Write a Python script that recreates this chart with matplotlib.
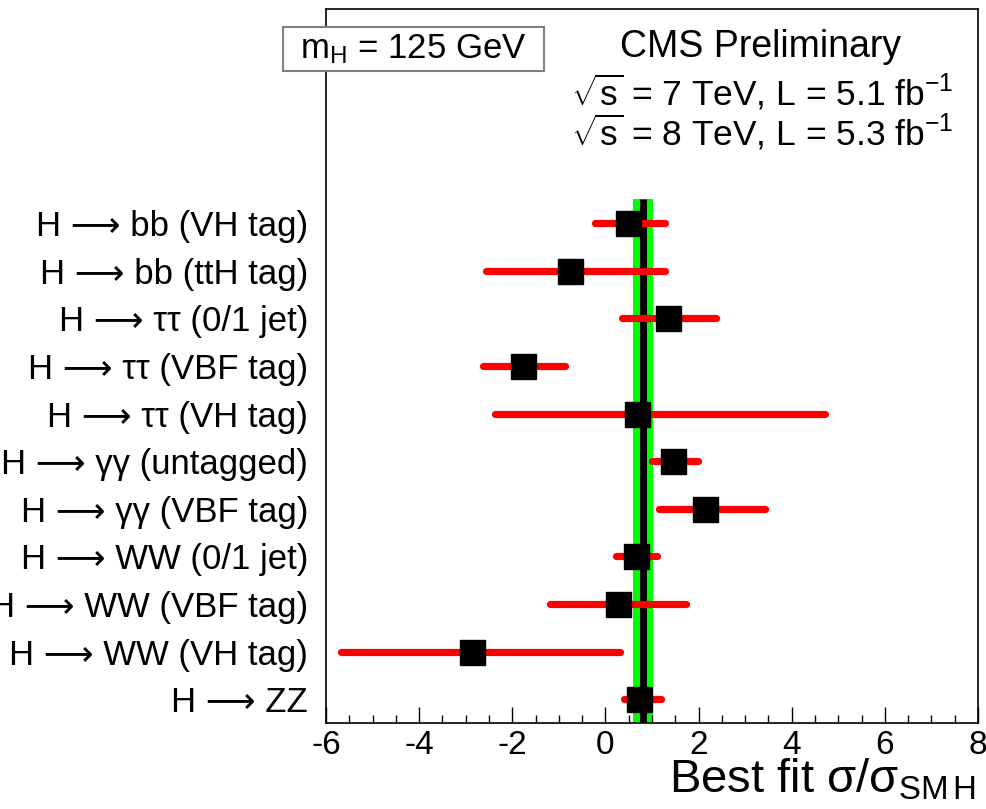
import matplotlib
matplotlib.use("Agg")
import matplotlib.pyplot as plt
from matplotlib.patches import Rectangle
from matplotlib.ticker import MultipleLocator

plt.rcParams['font.family'] = ['Liberation Sans', 'DejaVu Sans']
plt.rcParams['mathtext.fontset'] = 'custom'
plt.rcParams['mathtext.rm'] = 'Liberation Sans'
plt.rcParams['mathtext.it'] = 'Liberation Sans:italic'
plt.rcParams['mathtext.bf'] = 'Liberation Sans:bold'

# ---- data (top to bottom) ----
channels = [
    "H ⟶ bb (VH tag)",
    "H ⟶ bb (ttH tag)",
    "H ⟶ ττ (0/1 jet)",
    "H ⟶ ττ (VBF tag)",
    "H ⟶ ττ (VH tag)",
    "H ⟶ γγ (untagged)",
    "H ⟶ γγ (VBF tag)",
    "H ⟶ WW (0/1 jet)",
    "H ⟶ WW (VBF tag)",
    "H ⟶ WW (VH tag)",
    "H ⟶ ZZ",
]
best_fit = [0.48, -0.76, 1.34, -1.77, 0.67, 1.45, 2.13, 0.65, 0.27, -2.87, 0.72]
err_low  = [-0.22, -2.57, 0.35, -2.63, -2.37, 1.01, 1.14, 0.22, -1.19, -5.68, 0.39]
err_high = [1.28, 1.28, 2.37, -0.87, 4.72, 1.98, 3.42, 1.11, 1.73, 0.32, 1.19]

combined = 0.80
combined_lo = 0.59
combined_hi = 1.02

xlim = (-6, 8)

fig = plt.figure(figsize=(9.87, 8.09), dpi=100)
ax = fig.add_axes([326/987, 1 - 723/809, (978 - 326)/987, (723 - 9)/809])

n = len(channels)
ypos = list(range(n - 1, -1, -1))

# combined band and line
ax.fill_betweenx([-0.5, n - 0.5], combined_lo, combined_hi, color='#00ff00', lw=0, zorder=1)
ax.vlines(combined, -0.5, n - 0.5, color='black', lw=5.0, zorder=2)

# error bars
ax.hlines(ypos, err_low, err_high, color='#ff0000', lw=5.2, capstyle='round', zorder=3)
ax.plot(best_fit, ypos, 's', color='black', markersize=18, zorder=4, linestyle='none')

ax.set_xlim(*xlim)
ax.set_ylim(-0.5, n - 1 + 4.5)

ax.set_yticks(ypos)
ax.set_yticklabels(channels, fontsize=25)
ax.tick_params(axis='y', length=0, pad=13)

ax.xaxis.set_major_locator(MultipleLocator(2))
ax.xaxis.set_minor_locator(MultipleLocator(0.5))
ax.tick_params(axis='x', which='major', direction='in', length=11.5, width=1.0, labelsize=24, pad=5)
ax.tick_params(axis='x', which='minor', direction='in', length=5.8, width=1.0)
ax.set_xticklabels([f"{int(v)}" for v in ax.get_xticks()])

for s in ax.spines.values():
    s.set_linewidth(1.2)

# x label
fig.text(976/987, 1 - 793/809, r"Best fit σ/σ$_{\mathrm{SM\,H}}$", fontsize=34,
         ha='right', va='baseline')

# CMS texts
fig.text(760/987, 1 - 57/809, "CMS Preliminary", fontsize=27, ha='center', va='baseline')
fig.text(762/987, 1 - 105/809, r"$\sqrt{\mathrm{s}}$ = 7 TeV, L = 5.1 fb$^{\mathrm{-1}}$",
         fontsize=25.5, ha='center', va='baseline')
fig.text(762/987, 1 - 145/809, r"$\sqrt{\mathrm{s}}$ = 8 TeV, L = 5.3 fb$^{\mathrm{-1}}$",
         fontsize=25.5, ha='center', va='baseline')

# mH box
fig.add_artist(Rectangle((283/987, 1 - 71/809), (544 - 283)/987, (71 - 27)/809,
                         transform=fig.transFigure, facecolor='white',
                         edgecolor='#808080', lw=1.5, zorder=5))
fig.text(300/987, 1 - 58/809, r"m$_{\mathrm{H}}$ = 125 GeV", fontsize=25,
         ha='left', va='baseline', zorder=6)

fig.savefig("out.png", dpi=100)
